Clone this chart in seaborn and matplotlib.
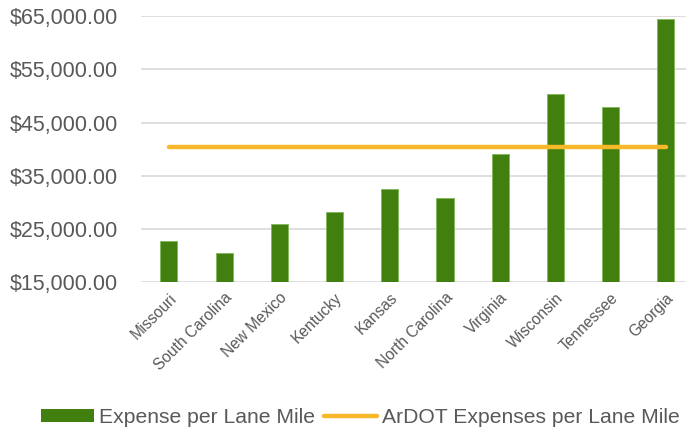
import numpy as np
import pandas as pd
import matplotlib
matplotlib.use("Agg")
import matplotlib.pyplot as plt
import seaborn as sns
from matplotlib.ticker import FuncFormatter
from matplotlib.patches import Patch
from matplotlib.lines import Line2D

states = ["Missouri", "South Carolina", "New Mexico", "Kentucky", "Kansas",
          "North Carolina", "Virginia", "Wisconsin", "Tennessee", "Georgia"]
expense = [22600, 20500, 25800, 28200, 32400, 30800, 39100, 50400, 47900, 64400]
ardot_value = 40300
ardot = [ardot_value] * len(states)
yticks = [15000, 25000, 35000, 45000, 55000, 65000]

GREEN = "#41800F"
GREEN_EDGE = "#86B860"
ORANGE = "#F7B829"
GRAY_TXT = "#595959"
GRID = "#D9D9D9"

sns.set_theme(style="white")
plt.rcParams["font.family"] = ["Liberation Sans", "DejaVu Sans"]

fig = plt.figure(figsize=(6.86, 4.29), dpi=100)
ax = fig.add_axes([0.206, 0.343, 0.805, 0.619])

df = pd.DataFrame({"State": states, "Expense": expense})
sns.barplot(data=df, x="State", y="Expense", color=GREEN, width=0.31,
            saturation=1, ax=ax, zorder=2, edgecolor=GREEN_EDGE, linewidth=0.7)

pos = np.arange(len(states))
ax.plot(pos, ardot, color=ORANGE, lw=3.2, solid_capstyle="round", zorder=3)

ax.set_ylim(15000, 65000)
ax.set_xlim(-0.5, len(states) - 0.5)
ax.set_yticks(yticks)
ax.yaxis.set_major_formatter(FuncFormatter(lambda v, p: f"${v:,.2f}"))
ax.grid(axis="y", color=GRID, lw=1.2, zorder=0)
ax.set_axisbelow(True)
for s in ax.spines.values():
    s.set_visible(False)
ax.set_xlabel("")
ax.set_ylabel("")
ax.tick_params(axis="y", labelsize=15.5, colors=GRAY_TXT, length=0, pad=17)
ax.tick_params(axis="x", labelsize=11.2, colors=GRAY_TXT, length=0, pad=6)
for lab in ax.get_yticklabels():
    lab.set_color(GRAY_TXT)
for lab in ax.get_xticklabels():
    lab.set_rotation(45)
    lab.set_ha("right")
    lab.set_va("top")
    lab.set_rotation_mode("anchor")
    lab.set_color(GRAY_TXT)

handles = [Patch(facecolor=GREEN, edgecolor="none", label="Expense per Lane Mile"),
           Line2D([0], [0], color=ORANGE, lw=3.2, solid_capstyle="round",
                  label="ArDOT Expenses per Lane Mile")]
leg = fig.legend(handles=handles, loc="center", bbox_to_anchor=(0.525, 0.027),
                 ncol=2, frameon=False, fontsize=15.2, handlelength=2.5,
                 handleheight=0.58, handletextpad=0.24, columnspacing=0.43,
                 borderpad=0)
for t in leg.get_texts():
    t.set_color(GRAY_TXT)

fig.savefig("out.png", dpi=100)
